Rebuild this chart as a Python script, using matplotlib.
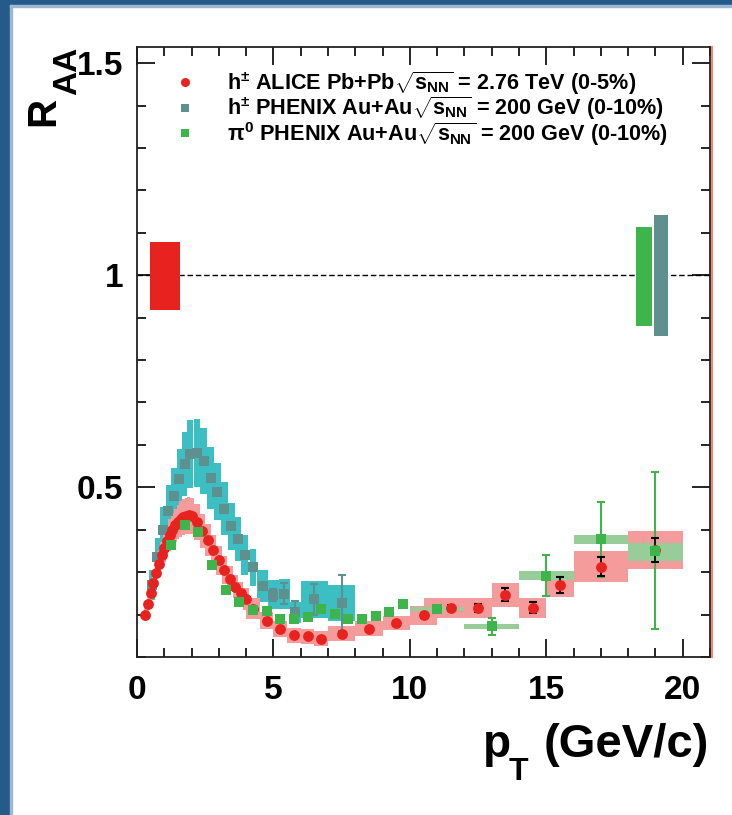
import numpy as np
import matplotlib.pyplot as plt
from matplotlib.lines import Line2D
from matplotlib.patches import Rectangle
from matplotlib.ticker import MultipleLocator, FuncFormatter
import matplotlib.transforms as mtransforms

plt.rcParams["font.family"] = ["Liberation Sans", "DejaVu Sans"]
plt.rcParams["mathtext.fontset"] = "custom"
plt.rcParams["mathtext.rm"] = "Liberation Sans:bold"
plt.rcParams["mathtext.it"] = "Liberation Sans:bold"
plt.rcParams["mathtext.bf"] = "Liberation Sans:bold"

# h+- ALICE Pb+Pb 2.76 TeV (0-5%)
alice_pt = [0.3, 0.4, 0.5, 0.6, 0.7, 0.8, 0.9, 1.0, 1.1, 1.2, 1.3, 1.4, 1.5, 1.6, 1.7,
            1.8, 1.9, 2.0, 2.2, 2.4, 2.6, 2.8, 3.0, 3.2, 3.4, 3.6, 3.8, 4.0, 4.25, 4.75,
            5.25, 5.75, 6.25, 6.75, 7.5, 8.5, 9.5, 10.5, 11.5, 12.5, 13.5, 14.5, 15.5,
            17.0, 19.0]
alice_raa = [0.200, 0.225, 0.250, 0.275, 0.298, 0.320, 0.340, 0.358, 0.374, 0.388,
             0.400, 0.410, 0.418, 0.425, 0.430, 0.433, 0.434, 0.432, 0.418, 0.398,
             0.376, 0.352, 0.328, 0.305, 0.285, 0.266, 0.250, 0.237, 0.214, 0.186,
             0.166, 0.151, 0.149, 0.143, 0.155, 0.167, 0.180, 0.198, 0.215, 0.216,
             0.247, 0.216, 0.270, 0.313, 0.352]
alice_stat = [0.002, 0.002, 0.002, 0.002, 0.002, 0.002, 0.002, 0.002, 0.002, 0.002,
              0.002, 0.002, 0.002, 0.002, 0.002, 0.002, 0.002, 0.002, 0.002, 0.002,
              0.002, 0.002, 0.002, 0.002, 0.002, 0.002, 0.002, 0.002, 0.002, 0.003,
              0.003, 0.003, 0.003, 0.003, 0.003, 0.004, 0.005, 0.006, 0.007, 0.009,
              0.015, 0.013, 0.018, 0.022, 0.028]
alice_sys = [0.016, 0.019, 0.022, 0.025, 0.028, 0.030, 0.032, 0.034, 0.036, 0.038,
             0.039, 0.040, 0.041, 0.042, 0.043, 0.043, 0.043, 0.043, 0.042, 0.040,
             0.038, 0.036, 0.034, 0.032, 0.030, 0.028, 0.027, 0.026, 0.024, 0.021,
             0.019, 0.018, 0.018, 0.018, 0.018, 0.018, 0.017, 0.022, 0.023, 0.023,
             0.028, 0.024, 0.029, 0.037, 0.045]
alice_hw = [0.05] * 17 + [0.1] * 11 + [0.25] * 6 + [0.5] * 4 + [1.0, 0.5, 0.5, 0.5, 0.5, 1.0, 1.0]

# h+- PHENIX Au+Au 200 GeV (0-10%)
phx_pt = [0.55, 0.75, 0.95, 1.15, 1.35, 1.55, 1.75, 1.95, 2.2, 2.45, 2.7, 2.95, 3.2,
          3.45, 3.7, 3.95, 4.25, 4.6, 5.0, 5.4, 5.8, 6.5, 7.5]
phx_raa = [0.270, 0.335, 0.400, 0.445, 0.480, 0.520, 0.555, 0.578, 0.580, 0.562, 0.522,
           0.490, 0.450, 0.408, 0.378, 0.340, 0.311, 0.267, 0.247, 0.249, 0.205, 0.236,
           0.227]
phx_stat = [0.003, 0.003, 0.003, 0.003, 0.003, 0.003, 0.003, 0.003, 0.004, 0.004, 0.004,
            0.004, 0.005, 0.005, 0.006, 0.006, 0.008, 0.010, 0.014, 0.025, 0.026, 0.036,
            0.066]
phx_sys = [0.036, 0.045, 0.054, 0.060, 0.065, 0.070, 0.075, 0.080, 0.080, 0.077, 0.072,
           0.067, 0.062, 0.056, 0.052, 0.047, 0.043, 0.037, 0.034, 0.035, 0.025, 0.043,
           0.042]
phx_hw = [0.1] * 8 + [0.125] * 9 + [0.2, 0.2, 0.2, 0.2, 0.5, 0.5]

# pi0 PHENIX Au+Au 200 GeV (0-10%)
pi0_pt = [1.25, 1.75, 2.25, 2.75, 3.25, 3.75, 4.25, 4.75, 5.25, 5.75, 6.25, 6.75, 7.25,
          7.75, 8.25, 8.75, 9.25, 9.75, 11.0, 13.0, 15.0, 17.0, 19.0]
pi0_raa = [0.363, 0.412, 0.395, 0.316, 0.257, 0.230, 0.211, 0.208, 0.190, 0.190, 0.195,
           0.212, 0.202, 0.190, 0.190, 0.196, 0.206, 0.224, 0.214, 0.172, 0.292, 0.377,
           0.350]
pi0_stat = [0.002, 0.002, 0.002, 0.002, 0.002, 0.002, 0.002, 0.002, 0.002, 0.003, 0.003,
            0.003, 0.004, 0.004, 0.005, 0.006, 0.007, 0.009, 0.006, 0.021, 0.048, 0.088,
            0.185]
pi0_box_pt = [11.0, 13.0, 15.0, 17.0, 19.0]
pi0_box_hw = [1.0, 1.0, 1.0, 1.0, 1.0]
pi0_box_raa = [0.214, 0.172, 0.292, 0.377, 0.348]
pi0_box_sys = [0.005, 0.005, 0.010, 0.011, 0.021]

# normalisation uncertainties at R_AA = 1
norm_x = [1.02, 18.57, 19.2]
norm_hw = [0.54, 0.29, 0.26]
norm_lo = [0.918, 0.880, 0.856]
norm_hi = [1.078, 1.114, 1.143]

red = "#e8221f"
pink = "#f49c9c"
cyan = "#3bbfc3"
grey = "#5f9090"
green = "#3db54a"
lgreen = "#98cc98"

fig = plt.figure(figsize=(7.32, 8.15), dpi=100)
ax = fig.add_axes([137 / 732, 1 - 657 / 815, 573 / 732, 610 / 815])

# systematic boxes
ax.bar(phx_pt, 2 * np.array(phx_sys), bottom=np.array(phx_raa) - np.array(phx_sys),
       width=2 * np.array(phx_hw), color=cyan, lw=0, zorder=1)
ax.bar(alice_pt, 2 * np.array(alice_sys), bottom=np.array(alice_raa) - np.array(alice_sys),
       width=2 * np.array(alice_hw), color=pink, lw=0, zorder=1.5)
ax.bar(pi0_box_pt, 2 * np.array(pi0_box_sys),
       bottom=np.array(pi0_box_raa) - np.array(pi0_box_sys),
       width=2 * np.array(pi0_box_hw), color=lgreen, lw=0, zorder=2)

# normalisation boxes
ax.bar(norm_x, np.array(norm_hi) - np.array(norm_lo), bottom=norm_lo,
       width=2 * np.array(norm_hw), color=[red, green, grey], lw=0, zorder=2)

ax.axhline(1.0, color="black", lw=1.0, ls=(0, (4, 2)), zorder=1.8)

# statistical errors and points
ax.errorbar(phx_pt, phx_raa, yerr=phx_stat, fmt="none", ecolor=grey, elinewidth=1.5,
            capsize=3, capthick=1.5, zorder=3)
ax.plot(phx_pt, phx_raa, "s", color=grey, ms=7, mew=0, zorder=3.2)
ax.errorbar(pi0_pt, pi0_raa, yerr=pi0_stat, fmt="none", ecolor=green, elinewidth=1.5,
            capsize=3, capthick=1.5, zorder=4)
ax.errorbar(alice_pt, alice_raa, yerr=alice_stat, fmt="none", ecolor="black",
            elinewidth=1.2, capsize=3, capthick=1.5, zorder=4.5)
ax.plot(alice_pt, alice_raa, "o", color=red, ms=7.8, mew=0, zorder=5)
ax.plot(pi0_pt, pi0_raa, "s", color=green, ms=7, mew=0, zorder=6)

ax.set_xlim(0, 21)
ax.set_ylim(0.1, 1.538)

ax.xaxis.set_major_locator(MultipleLocator(5))
ax.xaxis.set_minor_locator(MultipleLocator(1))
ax.yaxis.set_major_locator(MultipleLocator(0.5))
ax.yaxis.set_minor_locator(MultipleLocator(0.1))
ax.yaxis.set_major_formatter(FuncFormatter(lambda v, p: "%g" % v))

ax.tick_params(which="both", direction="in", top=True, right=True, width=1.2)
ax.tick_params(which="major", length=13)
ax.tick_params(which="minor", length=6.5)
ax.tick_params(axis="x", pad=13, labelsize=24)
ax.tick_params(axis="y", pad=10, labelsize=24)
for lab in ax.get_xticklabels() + ax.get_yticklabels():
    lab.set_fontweight("bold")
for side in ("top", "bottom", "left", "right"):
    ax.spines[side].set_linewidth(1.3)
    ax.spines[side].set_color("#222222")

# thin orange edge beside the right frame
edge = mtransforms.offset_copy(ax.transAxes, fig=fig, x=1.5, y=0, units="dots")
ax.add_line(Line2D([1, 1], [0, 1], transform=edge, color="#f08a70", lw=1.5,
                   clip_on=False))

# axis titles, ROOT style with full size subscripts
fig.text(483 / 732, 1 - 757 / 815, "p", fontsize=33, fontweight="bold",
         ha="left", va="baseline")
fig.text(509 / 732, 1 - 780 / 815, "T", fontsize=23, fontweight="bold",
         ha="left", va="baseline")
fig.text(709 / 732, 1 - 757 / 815, "(GeV/c)", fontsize=34, fontweight="bold",
         ha="right", va="baseline")
fig.text(43 / 732, 1 - 111 / 815, "R", rotation=90, fontsize=29, fontweight="bold",
         ha="center", va="center")
fig.text(68 / 732, 1 - 71 / 815, "AA", rotation=90, fontsize=24, fontweight="bold",
         ha="center", va="center")

handles = [
    Line2D([], [], marker="o", ls="", color=red, ms=6.5, mew=0),
    Line2D([], [], marker="s", ls="", color=grey, ms=6, mew=0),
    Line2D([], [], marker="s", ls="", color=green, ms=6, mew=0),
]
labels = [
    r"h$^{\pm}$ ALICE Pb+Pb$\sqrt{s_{\rm NN}}$ = 2.76 TeV (0-5%)",
    r"h$^{\pm}$ PHENIX Au+Au$\sqrt{s_{\rm NN}}$ = 200 GeV (0-10%)",
    r"$\pi^{0}$ PHENIX Au+Au$\sqrt{s_{\rm NN}}$ = 200 GeV (0-10%)",
]
leg = ax.legend(handles, labels, loc="upper left", bbox_to_anchor=(0.067, 0.964),
                frameon=False, fontsize=15.6, handlelength=0.9, handletextpad=1.5,
                borderpad=0, borderaxespad=0, labelspacing=-0.1)
for t in leg.get_texts():
    t.set_fontweight("bold")

# dark blue border
fig.patches.append(Rectangle((0, 0), 10 / 732, 1, transform=fig.transFigure,
                             color="#245b8b", zorder=0))
fig.patches.append(Rectangle((0, 1 - 5 / 815), 1, 5 / 815, transform=fig.transFigure,
                             color="#245b8b", zorder=0))
fig.patches.append(Rectangle((10 / 732, 0), 1.5 / 732, 1 - 5 / 815,
                             transform=fig.transFigure, color="#9db8d0", zorder=0))
fig.patches.append(Rectangle((10 / 732, 1 - 6.5 / 815), 1 - 10 / 732, 1.5 / 815,
                             transform=fig.transFigure, color="#9db8d0", zorder=0))

fig.savefig("out.png", dpi=100)
